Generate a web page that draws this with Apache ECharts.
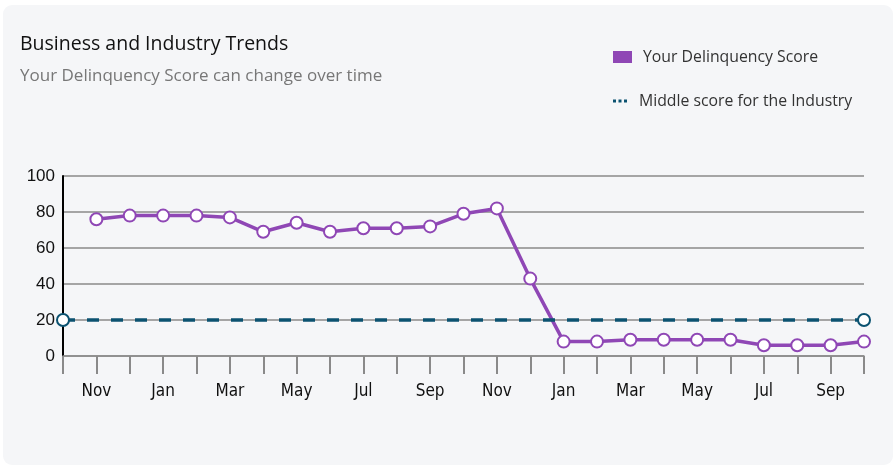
<!DOCTYPE html>
<html>
<head>
<meta charset="utf-8">
<script src="https://cdn.jsdelivr.net/npm/echarts@6/dist/echarts.min.js"></script>
<style>
  html, body { margin: 0; padding: 0; background: #fff; }
  #card { position: absolute; left: 3px; top: 5px; width: 890px; height: 460px; background: #f5f6f8; border-radius: 9px; }
  #chart { position: absolute; left: 0; top: 0; width: 895px; height: 466px; }
</style>
</head>
<body>
<div id="card"></div>
<div id="chart"></div>
<script>
// months shown on the axis (one tick per month)
var months = ['Oct','Nov','Dec','Jan','Feb','Mar','Apr','May','Jun','Jul','Aug','Sep',
              'Oct','Nov','Dec','Jan','Feb','Mar','Apr','May','Jun','Jul','Aug','Sep','Oct'];
// your delinquency score
var scoreValues = [null, 76, 78, 78, 78, 77, 69, 74, 69, 71, 71, 72, 79,
                   82, 43, 8, 8, 9, 9, 9, 9, 6, 6, 6, 8];
// middle score for the industry
var industryValues = [20, 20, 20, 20, 20, 20, 20, 20, 20, 20, 20, 20, 20,
                      20, 20, 20, 20, 20, 20, 20, 20, 20, 20, 20, 20];
var yTicks = [0, 20, 40, 60, 80, 100];

var purple = '#8f47b5';
var teal = '#0b5270';
var titleFont = '"Open Sans", Lato, sans-serif';

var myChart = echarts.init(document.getElementById('chart'));

var option = {
    animation: false,
    title: {
        text: 'Business and Industry Trends',
        subtext: 'Your Delinquency Score can change over time',
        left: 20,
        top: 34,
        itemGap: 14,
        padding: 0,
        textStyle: { fontFamily: titleFont, fontSize: 19.5, fontWeight: 'normal', color: '#111' },
        subtextStyle: { fontFamily: titleFont, fontSize: 17, color: '#777' }
    },
    legend: [{
        left: 613,
        top: 49,
        padding: 0,
        itemWidth: 19,
        itemHeight: 12,
        data: [{ name: 'Your Delinquency Score', icon: 'rect', itemStyle: { color: purple, borderWidth: 0 } }],
        textStyle: { fontFamily: titleFont, fontSize: 15.8, color: '#333', padding: [0, 0, 0, 6] }
    }, {
        left: 613,
        top: 93,
        padding: 0,
        itemWidth: 14,
        itemHeight: 3,
        data: [{
            name: 'Middle score for the Industry',
            icon: 'path://M0,0h3v3h-3z M5.5,0h3v3h-3z M11,0h3v3h-3z',
            itemStyle: { color: teal, borderWidth: 0 }
        }],
        textStyle: { fontFamily: titleFont, fontSize: 15.8, color: '#333', padding: [0, 0, 0, 7] }
    }],
    grid: { left: 63, right: 31, top: 176, bottom: 110 },
    xAxis: {
        type: 'category',
        data: months,
        boundaryGap: false,
        axisLine: { lineStyle: { color: '#8a8a8a', width: 1.5 } },
        axisTick: { show: true, interval: 0, length: 18, lineStyle: { color: '#8a8a8a', width: 2 } },
        axisLabel: {
            interval: function (i) { return i % 2 === 1; },
            margin: 27,
            fontFamily: '"Liberation Sans Narrow", "DejaVu Sans Condensed", sans-serif',
            fontSize: 17,
            color: '#111'
        }
    },
    yAxis: {
        type: 'value',
        min: yTicks[0],
        max: yTicks[yTicks.length - 1],
        interval: 20,
        axisLine: { show: true, lineStyle: { color: '#000', width: 2 } },
        axisTick: { show: false },
        axisLabel: { fontFamily: '"Liberation Sans", Arial, sans-serif', fontSize: 17, color: '#111', margin: 8 },
        splitLine: { lineStyle: { color: '#8a8a8a', width: 1.5 } }
    },
    series: [{
        name: 'Your Delinquency Score',
        type: 'line',
        data: scoreValues,
        z: 3,
        symbol: 'circle',
        symbolSize: 12,
        lineStyle: { color: purple, width: 3.5 },
        itemStyle: { color: '#fff', borderColor: purple, borderWidth: 2 }
    }, {
        name: 'Middle score for the Industry',
        type: 'line',
        data: industryValues,
        z: 4,
        symbol: 'circle',
        symbolSize: function (v, p) {
            return (p.dataIndex === 0 || p.dataIndex === industryValues.length - 1) ? 12 : 0;
        },
        lineStyle: { color: teal, width: 3.5, type: [12, 12] },
        itemStyle: { color: '#fff', borderColor: teal, borderWidth: 2 }
    }]
};

myChart.setOption(option);
window.onresize = myChart.resize;
</script>
</body>
</html>
